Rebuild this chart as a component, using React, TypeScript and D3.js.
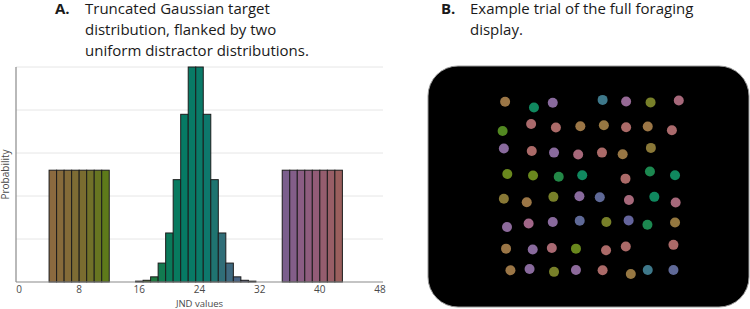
import React from "react";
import * as d3 from "d3";

// ---- panel A: histogram of JND values ----
const xTicks = [0, 8, 16, 24, 32, 40, 48];
const gridTicks = [0.05, 0.1, 0.15, 0.2, 0.25];

// bin centres (JND) and probability per bin
const lowBins = [4.5, 5.5, 6.5, 7.5, 8.5, 9.5, 10.5, 11.5];
const lowProb = [0.13, 0.13, 0.13, 0.13, 0.13, 0.13, 0.13, 0.13];

const targetBins = [16, 17, 18, 19, 20, 21, 22, 23, 24, 25, 26, 27, 28, 29, 30, 31];
const targetProb = [
  0.001, 0.002, 0.006, 0.022, 0.057, 0.119, 0.195, 0.25,
  0.25, 0.195, 0.119, 0.057, 0.022, 0.006, 0.002, 0.001,
];

const highBins = [35.5, 36.5, 37.5, 38.5, 39.5, 40.5, 41.5, 42.5];
const highProb = [0.13, 0.13, 0.13, 0.13, 0.13, 0.13, 0.13, 0.13];

// ---- panel B: one trial, screen coords (1024 x 768) and each item's JND ----
const dotX = [
  246, 338, 398, 557, 632, 710, 800,
  238, 329, 408, 486, 561, 632, 701, 778,
  242, 331, 402, 479, 555, 621, 711,
  253, 335, 417, 492, 630, 708, 788,
  242, 315, 400, 483, 548, 641, 722, 790,
  252, 321, 398, 484, 569, 640, 700, 788,
  249, 334, 395, 472, 568, 631, 783,
  263, 324, 402, 472, 557, 647, 701, 783,
];
const dotY = [
  114, 132, 117, 108, 113, 116, 110,
  207, 185, 196, 192, 189, 195, 193, 205,
  263, 271, 276, 282, 276, 281, 261,
  344, 349, 353, 348, 359, 336, 348,
  423, 434, 417, 415, 418, 427, 417, 435,
  513, 502, 497, 493, 497, 492, 506, 499,
  582, 585, 580, 582, 587, 575, 570,
  651, 647, 656, 650, 651, 663, 650, 650,
];
const dotJnd = [
  4.5, 19.5, 35.5, 27.5, 37, 10, 40.5,
  17, 42, 42.5, 4.5, 5.5, 42.5, 4.5, 42,
  35.5, 42.5, 35.5, 40.5, 42.5, 5, 8,
  11.5, 11.5, 18, 19.5, 42.5, 18.5, 19.5,
  8.5, 4.5, 10, 35.5, 30, 40.5, 19.5, 40.5,
  36, 39, 35.5, 30, 10, 31, 18.5, 6,
  4.5, 35.5, 41.5, 11.5, 42.5, 42.5, 42.5,
  4.5, 35.5, 10, 36, 42.5, 5.5, 27.5, 30,
];

// colour ramp along the JND axis
const colourDomain = [4.5, 8.5, 11.5, 17, 18, 19, 20, 22, 24, 25, 26, 27, 28, 29, 30, 31, 35.5, 37.5, 39.5, 42.5];
const colourRange = [
  "#8b6a3f", "#7a6c30", "#5e7a1a", "#4a7a1e", "#1f7a40", "#127a50", "#0a7a5a", "#067a64",
  "#0a7a68", "#0d786c", "#1f7470", "#306e78", "#3f6a80", "#4a6484", "#555e88", "#5a5a8c",
  "#7b5f8d", "#8b5d84", "#935c77", "#9a5f5d",
];

const W = 750;
const H = 309;
const font = "'Open Sans', Lato, sans-serif";

export default function App() {
  const x = d3.scaleLinear().domain([0, 48]).range([19, 380]);
  const y = d3.scaleLinear().domain([0, 0.25]).range([282, 67]);
  const colour = d3
    .scaleLinear<string>()
    .domain(colourDomain)
    .range(colourRange)
    .interpolate(d3.interpolateRgb)
    .clamp(true);

  const sx = d3.scaleLinear().domain([0, 1024]).range([428, 749]);
  const sy = d3.scaleLinear().domain([0, 768]).range([66, 307]);
  const dotR = 5;

  const bars = [
    ...lowBins.map((b, i) => ({ b, p: lowProb[i] })),
    ...targetBins.map((b, i) => ({ b, p: targetProb[i] })),
    ...highBins.map((b, i) => ({ b, p: highProb[i] })),
  ];

  const axisLeft = 16;
  const axisRight = 383;

  return (
    <svg
      width={W}
      height={H}
      style={{ position: "absolute", left: 0, top: 0, background: "#fff" }}
      fontFamily={font}
    >
      {/* titles */}
      <g fontSize={15} fill="#1a1a1a">
        <text x={55} y={14} fontWeight="bold">A.</text>
        <text x={85} y={14}>Truncated Gaussian target</text>
        <text x={85} y={35}>distribution, flanked by two</text>
        <text x={85} y={56}>uniform distractor distributions.</text>
        <text x={441} y={14} fontWeight="bold">B.</text>
        <text x={470} y={14}>Example trial of the full foraging</text>
        <text x={470} y={35}>display.</text>
      </g>

      {/* panel A */}
      <g>
        {gridTicks.map((t) => (
          <line key={t} x1={axisLeft} x2={axisRight} y1={y(t)} y2={y(t)} stroke="#e6e6e6" strokeWidth={1} />
        ))}
        {bars.map((d, i) => (
          <rect
            key={i}
            x={x(d.b - 0.5)}
            y={y(d.p)}
            width={x(d.b + 0.5) - x(d.b - 0.5)}
            height={y(0) - y(d.p)}
            fill={colour(d.b)}
            stroke="#1c1c1c"
            strokeWidth={1}
          />
        ))}
        <line x1={axisLeft} x2={axisLeft} y1={y(0.25)} y2={y(0)} stroke="#8a8a8a" strokeWidth={1.2} />
        <line x1={axisLeft} x2={axisRight} y1={y(0)} y2={y(0)} stroke="#8a8a8a" strokeWidth={1.2} />
        {xTicks.map((t) => (
          <text key={t} x={x(t)} y={292.5} textAnchor="middle" fontSize={10} fill="#4a4a4a">
            {t}
          </text>
        ))}
        <text x={(x(0) + x(48)) / 2} y={306.5} textAnchor="middle" fontSize={9.5} fill="#4a4a4a">
          JND values
        </text>
        <text
          transform={`translate(8.5, ${(y(0) + y(0.25)) / 2}) rotate(-90)`}
          textAnchor="middle"
          fontSize={10}
          fill="#4a4a4a"
        >
          Probability
        </text>
      </g>

      {/* panel B */}
      <g>
        <rect
          x={sx(0)}
          y={sy(0)}
          width={sx(1024) - sx(0)}
          height={sy(768) - sy(0)}
          rx={30}
          ry={30}
          fill="#000"
          stroke="#9a9a9a"
          strokeWidth={1}
        />
        {dotX.map((dx, i) => (
          <circle
            key={i}
            cx={sx(dx)}
            cy={sy(dotY[i])}
            r={dotR}
            fill={d3.color(colour(dotJnd[i]))!.brighter(0.3).formatHex()}
          />
        ))}
      </g>
    </svg>
  );
}
